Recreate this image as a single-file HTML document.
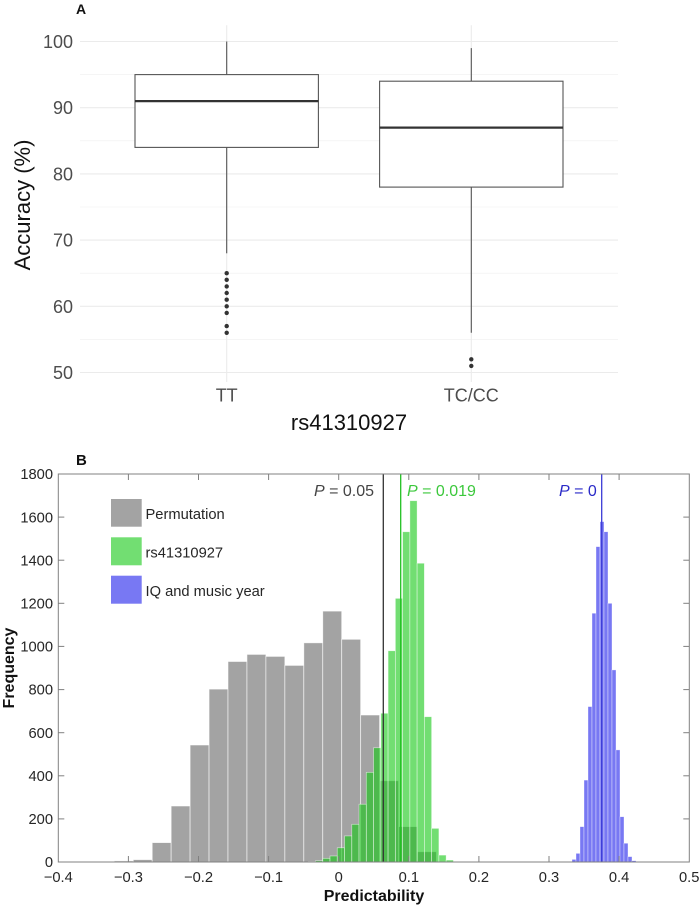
<!DOCTYPE html>
<html>
<head>
<meta charset="utf-8">
<style>
  html,body{margin:0;padding:0;background:#fff;}
  svg{display:block;}
  text{font-family:"Liberation Sans", Arial, sans-serif;}
</style>
</head>
<body>
<svg width="700" height="907" viewBox="0 0 700 907" xmlns="http://www.w3.org/2000/svg">
  <rect x="0" y="0" width="700" height="907" fill="#fff"/>

  <!-- ================= PANEL A ================= -->
  <text x="76" y="14" font-size="14" font-weight="bold" fill="#111">A</text>

  <!-- minor gridlines -->
  <g stroke="#efefef" stroke-width="0.6">
    <line x1="80" x2="618" y1="74.6" y2="74.6"/>
    <line x1="80" x2="618" y1="140.8" y2="140.8"/>
    <line x1="80" x2="618" y1="207.0" y2="207.0"/>
    <line x1="80" x2="618" y1="273.2" y2="273.2"/>
    <line x1="80" x2="618" y1="339.4" y2="339.4"/>
  </g>
  <!-- major gridlines -->
  <g stroke="#ebebeb" stroke-width="1.1">
    <line x1="80" x2="618" y1="41.5" y2="41.5"/>
    <line x1="80" x2="618" y1="107.7" y2="107.7"/>
    <line x1="80" x2="618" y1="173.9" y2="173.9"/>
    <line x1="80" x2="618" y1="240.1" y2="240.1"/>
    <line x1="80" x2="618" y1="306.3" y2="306.3"/>
    <line x1="80" x2="618" y1="372.5" y2="372.5"/>
    <line x1="226.7" x2="226.7" y1="25.3" y2="382"/>
    <line x1="471.3" x2="471.3" y1="25.3" y2="382"/>
  </g>

  <!-- y tick labels -->
  <g font-size="18" fill="#4d4d4d" text-anchor="end">
    <text x="73" y="48">100</text>
    <text x="73" y="114.2">90</text>
    <text x="73" y="180.4">80</text>
    <text x="73" y="246.6">70</text>
    <text x="73" y="312.8">60</text>
    <text x="73" y="379">50</text>
  </g>
  <!-- x tick labels -->
  <g font-size="18" fill="#4d4d4d" text-anchor="middle">
    <text x="226.7" y="401.5">TT</text>
    <text x="471.3" y="401.5">TC/CC</text>
  </g>
  <!-- axis titles -->
  <text x="349" y="430" font-size="22" fill="#111" text-anchor="middle">rs41310927</text>
  <text transform="translate(30,205) rotate(-90)" font-size="22" fill="#111" text-anchor="middle">Accuracy (%)</text>

  <!-- TT box -->
  <g stroke="#555" stroke-width="1.1" fill="#fff">
    <line x1="226.7" x2="226.7" y1="41.5" y2="74.6"/>
    <line x1="226.7" x2="226.7" y1="147.4" y2="253.3"/>
    <rect x="135" y="74.6" width="183.4" height="72.8"/>
    <line x1="471.3" x2="471.3" y1="48.1" y2="81.2"/>
    <line x1="471.3" x2="471.3" y1="187.1" y2="332.8"/>
    <rect x="379.6" y="81.2" width="183.4" height="105.9"/>
  </g>
  <g stroke="#333" stroke-width="2.3">
    <line x1="135" x2="318.4" y1="101.1" y2="101.1"/>
    <line x1="379.6" x2="563" y1="127.6" y2="127.6"/>
  </g>
  <!-- outliers -->
  <g fill="#333">
    <circle cx="226.7" cy="273.2" r="2.2"/>
    <circle cx="226.7" cy="279.8" r="2.2"/>
    <circle cx="226.7" cy="286.4" r="2.2"/>
    <circle cx="226.7" cy="293.0" r="2.2"/>
    <circle cx="226.7" cy="299.7" r="2.2"/>
    <circle cx="226.7" cy="306.3" r="2.2"/>
    <circle cx="226.7" cy="312.9" r="2.2"/>
    <circle cx="226.7" cy="326.1" r="2.2"/>
    <circle cx="226.7" cy="332.8" r="2.2"/>
    <circle cx="471.3" cy="359.3" r="2.2"/>
    <circle cx="471.3" cy="365.9" r="2.2"/>
  </g>

  <!-- ================= PANEL B ================= -->
  <text x="76" y="465" font-size="15" font-weight="bold" fill="#111">B</text>

  <!-- gray permutation histogram -->
  <g fill="rgba(102,102,102,0.6)" stroke="rgba(255,255,255,0.7)" stroke-width="0.8">
    <rect x="114.3" y="860.9" width="18.95" height="1.1"/>
    <rect x="133.25" y="859.6" width="18.95" height="2.4"/>
    <rect x="152.2" y="842.6" width="18.95" height="19.4"/>
    <rect x="171.15" y="806.0" width="18.95" height="56.0"/>
    <rect x="190.1" y="745.0" width="18.95" height="117.0"/>
    <rect x="209.05" y="689.1" width="18.95" height="172.9"/>
    <rect x="228.0" y="661.5" width="18.95" height="200.5"/>
    <rect x="246.95" y="654.4" width="18.95" height="207.6"/>
    <rect x="265.9" y="656.4" width="18.95" height="205.6"/>
    <rect x="284.85" y="665.4" width="18.95" height="196.6"/>
    <rect x="303.8" y="642.8" width="18.95" height="219.2"/>
    <rect x="322.75" y="611.1" width="18.95" height="250.9"/>
    <rect x="341.7" y="639.3" width="18.95" height="222.7"/>
    <rect x="360.65" y="715.0" width="18.95" height="147.0"/>
    <rect x="379.6" y="780.7" width="18.95" height="81.3"/>
    <rect x="398.55" y="826.6" width="18.95" height="35.4"/>
    <rect x="417.5" y="851.7" width="18.95" height="10.3"/>
  </g>

  <!-- green histogram -->
  <g fill="rgba(20,200,20,0.6)" stroke="rgba(255,255,255,0.6)" stroke-width="0.7">
    <rect x="308.22" y="861.57" width="7.26" height="0.43"/>
    <rect x="315.48" y="860.71" width="7.26" height="1.29"/>
    <rect x="322.74" y="858.34" width="7.26" height="3.66"/>
    <rect x="330.00" y="855.96" width="7.26" height="6.04"/>
    <rect x="337.26" y="847.77" width="7.26" height="14.23"/>
    <rect x="344.52" y="835.92" width="7.26" height="26.08"/>
    <rect x="351.78" y="824.28" width="7.26" height="37.72"/>
    <rect x="359.04" y="804.23" width="7.26" height="57.77"/>
    <rect x="366.30" y="772.33" width="7.26" height="89.67"/>
    <rect x="373.56" y="747.75" width="7.26" height="114.25"/>
    <rect x="380.82" y="713.26" width="7.26" height="148.74"/>
    <rect x="388.08" y="650.75" width="7.26" height="211.25"/>
    <rect x="395.34" y="598.37" width="7.26" height="263.63"/>
    <rect x="402.60" y="531.76" width="7.26" height="330.24"/>
    <rect x="409.86" y="500.72" width="7.26" height="361.28"/>
    <rect x="417.12" y="563.23" width="7.26" height="298.77"/>
    <rect x="424.38" y="716.71" width="7.26" height="145.29"/>
    <rect x="431.64" y="828.37" width="7.26" height="33.63"/>
    <rect x="438.90" y="855.10" width="7.26" height="6.90"/>
    <rect x="446.16" y="860.06" width="7.26" height="1.94"/>
  </g>

  <!-- blue histogram -->
  <g fill="rgba(30,30,235,0.6)" stroke="rgba(255,255,255,0.6)" stroke-width="0.6">
    <rect x="568" y="861.57" width="4" height="0.43"/>
    <rect x="572" y="859.41" width="4" height="2.59"/>
    <rect x="576" y="853.38" width="4" height="8.62"/>
    <rect x="580" y="826.65" width="4" height="35.35"/>
    <rect x="584" y="780.09" width="4" height="81.91"/>
    <rect x="588" y="706.58" width="4" height="155.42"/>
    <rect x="592" y="613.24" width="4" height="248.76"/>
    <rect x="596" y="546.64" width="4" height="315.36"/>
    <rect x="600" y="521.63" width="4" height="340.37"/>
    <rect x="604" y="531.76" width="4" height="330.24"/>
    <rect x="608" y="603.33" width="4" height="258.67"/>
    <rect x="612" y="669.94" width="4" height="192.06"/>
    <rect x="616" y="749.91" width="4" height="112.09"/>
    <rect x="620" y="816.73" width="4" height="45.27"/>
    <rect x="624" y="843.25" width="4" height="18.75"/>
    <rect x="628" y="856.61" width="4" height="5.39"/>
    <rect x="632" y="860.71" width="4" height="1.29"/>
  </g>

  <!-- threshold lines -->
  <line x1="383.3" x2="383.3" y1="474" y2="862" stroke="#333" stroke-width="1.3"/>
  <line x1="400.7" x2="400.7" y1="474" y2="862" stroke="#22c022" stroke-width="1.3"/>
  <line x1="601.7" x2="601.7" y1="474" y2="862" stroke="#3b3bd6" stroke-width="1.3"/>

  <!-- P labels -->
  <g font-size="16">
    <text x="374" y="496" text-anchor="end" fill="#444"><tspan font-style="italic">P</tspan> = 0.05</text>
    <text x="407" y="496" fill="#3cc83c"><tspan font-style="italic">P</tspan> = 0.019</text>
    <text x="559" y="496" fill="#2a2ac8"><tspan font-style="italic">P</tspan> = 0</text>
  </g>

  <!-- axes box -->
  <rect x="58.3" y="474" width="631" height="388" fill="none" stroke="#808080" stroke-width="1"/>
  <!-- x ticks -->
  <g stroke="#808080" stroke-width="1">
    <line x1="128.4" x2="128.4" y1="862" y2="856"/><line x1="128.4" x2="128.4" y1="474" y2="480"/>
    <line x1="198.5" x2="198.5" y1="862" y2="856"/><line x1="198.5" x2="198.5" y1="474" y2="480"/>
    <line x1="268.6" x2="268.6" y1="862" y2="856"/><line x1="268.6" x2="268.6" y1="474" y2="480"/>
    <line x1="338.7" x2="338.7" y1="862" y2="856"/><line x1="338.7" x2="338.7" y1="474" y2="480"/>
    <line x1="408.8" x2="408.8" y1="862" y2="856"/><line x1="408.8" x2="408.8" y1="474" y2="480"/>
    <line x1="478.9" x2="478.9" y1="862" y2="856"/><line x1="478.9" x2="478.9" y1="474" y2="480"/>
    <line x1="549.0" x2="549.0" y1="862" y2="856"/><line x1="549.0" x2="549.0" y1="474" y2="480"/>
    <line x1="619.1" x2="619.1" y1="862" y2="856"/><line x1="619.1" x2="619.1" y1="474" y2="480"/>
    <!-- y ticks -->
    <line x1="58.3" x2="64.3" y1="818.9" y2="818.9"/><line x1="689.3" x2="683.3" y1="818.9" y2="818.9"/>
    <line x1="58.3" x2="64.3" y1="775.8" y2="775.8"/><line x1="689.3" x2="683.3" y1="775.8" y2="775.8"/>
    <line x1="58.3" x2="64.3" y1="732.7" y2="732.7"/><line x1="689.3" x2="683.3" y1="732.7" y2="732.7"/>
    <line x1="58.3" x2="64.3" y1="689.6" y2="689.6"/><line x1="689.3" x2="683.3" y1="689.6" y2="689.6"/>
    <line x1="58.3" x2="64.3" y1="646.4" y2="646.4"/><line x1="689.3" x2="683.3" y1="646.4" y2="646.4"/>
    <line x1="58.3" x2="64.3" y1="603.3" y2="603.3"/><line x1="689.3" x2="683.3" y1="603.3" y2="603.3"/>
    <line x1="58.3" x2="64.3" y1="560.2" y2="560.2"/><line x1="689.3" x2="683.3" y1="560.2" y2="560.2"/>
    <line x1="58.3" x2="64.3" y1="517.1" y2="517.1"/><line x1="689.3" x2="683.3" y1="517.1" y2="517.1"/>
  </g>

  <!-- y tick labels -->
  <g font-size="14.7" fill="#262626" text-anchor="end">
    <text x="53" y="867">0</text>
    <text x="53" y="824">200</text>
    <text x="53" y="781">400</text>
    <text x="53" y="737.8">600</text>
    <text x="53" y="694.7">800</text>
    <text x="53" y="651.6">1000</text>
    <text x="53" y="608.5">1200</text>
    <text x="53" y="565.4">1400</text>
    <text x="53" y="522.3">1600</text>
    <text x="53" y="479.2">1800</text>
  </g>
  <!-- x tick labels -->
  <g font-size="14.7" fill="#262626" text-anchor="middle">
    <text x="58.3" y="882">−0.4</text>
    <text x="128.4" y="882">−0.3</text>
    <text x="198.5" y="882">−0.2</text>
    <text x="268.6" y="882">−0.1</text>
    <text x="338.7" y="882">0</text>
    <text x="408.8" y="882">0.1</text>
    <text x="478.9" y="882">0.2</text>
    <text x="549.0" y="882">0.3</text>
    <text x="619.1" y="882">0.4</text>
    <text x="689.2" y="882">0.5</text>
  </g>

  <!-- axis titles -->
  <text x="374" y="901" font-size="16" font-weight="bold" fill="#111" text-anchor="middle">Predictability</text>
  <text transform="translate(14,668) rotate(-90)" font-size="16" font-weight="bold" fill="#111" text-anchor="middle">Frequency</text>

  <!-- legend -->
  <rect x="111" y="499" width="30.7" height="27.7" fill="rgba(102,102,102,0.6)"/>
  <rect x="111" y="537.3" width="30.7" height="28" fill="rgba(20,200,20,0.6)"/>
  <rect x="111" y="575.7" width="30.7" height="28" fill="rgba(30,30,235,0.6)"/>
  <g font-size="14.7" fill="#262626">
    <text x="145.5" y="519">Permutation</text>
    <text x="145.5" y="557.5">rs41310927</text>
    <text x="145.5" y="596">IQ and music year</text>
  </g>
</svg>
</body>
</html>
